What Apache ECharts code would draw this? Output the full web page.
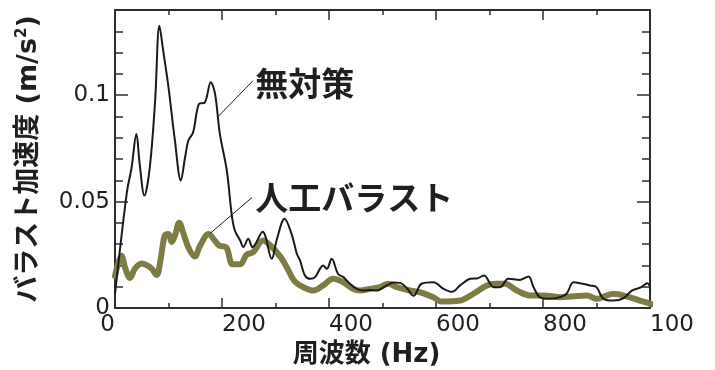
<!DOCTYPE html>
<html>
<head>
<meta charset="utf-8">
<script src="https://cdn.jsdelivr.net/npm/echarts@6.0.0/dist/echarts.min.js"></script>
<style>
  html, body { margin: 0; padding: 0; background: #ffffff; }
  #chart { width: 715px; height: 370px; }
</style>
</head>
<body>
<div id="chart"></div>
<script>
// 無対策: ballast acceleration spectrum without countermeasure
const noneFreq = [0, 22, 31, 40, 46, 55, 65, 75, 83, 90, 100, 112, 123, 131, 137, 146, 157, 168, 179, 187, 196, 209, 218, 224, 234, 240, 249, 257, 276, 293, 302, 317, 330, 340, 346, 355, 365, 374, 383, 389, 396, 405, 417, 427, 439, 452, 464, 476, 489, 508, 520, 533, 545, 558, 573, 595, 614, 630, 645, 664, 678, 690, 700, 707, 720, 735, 757, 773, 782, 794, 813, 830, 844, 857, 872, 888, 900, 913, 932, 950, 966, 981, 995, 1004];
const noneAccel = [0.0065, 0.054, 0.066, 0.0818, 0.068, 0.0528, 0.066, 0.0974, 0.1326, 0.121, 0.1037, 0.0786, 0.0599, 0.0708, 0.0786, 0.0825, 0.0959, 0.0966, 0.106, 0.1006, 0.0818, 0.0646, 0.0442, 0.0364, 0.0317, 0.0286, 0.0325, 0.0286, 0.0358, 0.0231, 0.0317, 0.0419, 0.0348, 0.0254, 0.0223, 0.0153, 0.0137, 0.0145, 0.0184, 0.020, 0.0184, 0.0231, 0.016, 0.0145, 0.0114, 0.009, 0.0082, 0.0085, 0.0082, 0.0106, 0.012, 0.0118, 0.0095, 0.0057, 0.0114, 0.0121, 0.009, 0.0076, 0.0106, 0.0137, 0.014, 0.0153, 0.012, 0.0098, 0.0098, 0.0137, 0.0132, 0.0148, 0.010, 0.0051, 0.0043, 0.005, 0.0067, 0.0121, 0.0115, 0.0106, 0.0098, 0.0043, 0.0035, 0.0045, 0.0082, 0.0095, 0.0116, 0.0055];

// 人工バラスト: ballast acceleration spectrum with artificial ballast
const ballastFreq = [0, 12, 20, 28, 37, 50, 60, 69, 78, 85, 93, 100, 106, 112, 120, 128, 137, 149, 159, 175, 186, 195, 208, 220, 234, 246, 258, 277, 292, 310, 321, 336, 352, 371, 389, 408, 427, 445, 458, 477, 495, 511, 527, 551, 570, 595, 610, 645, 670, 695, 713, 729, 751, 776, 801, 832, 856, 882, 900, 915, 932, 956, 981, 1003];
const ballastAccel = [0.015, 0.0246, 0.018, 0.0141, 0.0184, 0.0209, 0.020, 0.0184, 0.0155, 0.0225, 0.034, 0.0348, 0.031, 0.034, 0.040, 0.035, 0.0285, 0.0242, 0.0293, 0.0348, 0.0318, 0.0293, 0.0285, 0.0205, 0.0205, 0.025, 0.0262, 0.0317, 0.029, 0.0238, 0.0192, 0.0125, 0.0098, 0.0082, 0.0106, 0.0137, 0.0121, 0.009, 0.0082, 0.009, 0.0098, 0.0114, 0.0098, 0.0082, 0.0074, 0.0051, 0.003, 0.0035, 0.0067, 0.0106, 0.0114, 0.0114, 0.0082, 0.0059, 0.0059, 0.0051, 0.0055, 0.0059, 0.0043, 0.0055, 0.0067, 0.0055, 0.0035, 0.0018];

const seriesNames = ['無対策', '人工バラスト'];

// tick labels as printed on the axes
const xTickValues = [0, 200, 400, 600, 800, 1000];
const xTickLabels = ['0', '200', '400', '600', '800', '100'];
const yTickValues = [0, 0.05, 0.1];
const yTickLabels = ['0', '0.05', '0.1'];

const xTitle = '周波数 (Hz)';
const yTitle = 'バラスト加速度 (m/s{sup|2})';

// leader lines from each curve to its callout text: [from, to, text anchor]
const noneLeader = [[192.5, 0.0899], [258, 0.1068], [262, 0.1056]];
const ballastLeader = [[177.6, 0.035], [256, 0.0519], [262, 0.0521]];

function pairs(xs, ys) { return xs.map((x, i) => [x, ys[i]]); }
function lookup(values, labels, v) {
  for (let i = 0; i < values.length; i++) {
    if (Math.abs(values[i] - v) < 1e-6) return labels[i];
  }
  return '';
}

const INK = '#1f1f1f';
const AXIS = '#2e2e2e';
const NUM_FONT = 'DejaVu Sans';
const TITLE_FONT = "'DejaVu Sans', 'Noto Sans CJK JP'";
const CJK_FONT = "'Noto Sans CJK JP'";

const labelBase = { fontFamily: NUM_FONT, fontSize: 23, color: INK };

function yAxisBase(pos, tickLen, interval, showLine) {
  return {
    type: 'value', position: pos, min: 0, max: 0.14, interval: interval,
    axisLine: { show: showLine, onZero: false, lineStyle: { color: AXIS, width: 2 } },
    axisTick: { show: true, inside: true, length: tickLen, lineStyle: { color: AXIS, width: 1.5 } },
    axisLabel: { show: false },
    splitLine: { show: false }
  };
}

const chart = echarts.init(document.getElementById('chart'), null, { renderer: 'canvas' });

chart.setOption({
  animation: false,
  backgroundColor: '#ffffff',
  grid: { left: 115, right: 65, top: 10, bottom: 62, containLabel: false, outerBoundsMode: 'none' },
  xAxis: [
    {
      type: 'value', position: 'bottom', min: 0, max: 1000, interval: 200,
      axisLine: { show: true, onZero: false, lineStyle: { color: AXIS, width: 2 } },
      axisTick: { show: true, inside: true, length: 10, lineStyle: { color: AXIS, width: 1.5 } },
      minorTick: { show: true, splitNumber: 2, length: 5, lineStyle: { color: AXIS, width: 1.5 } },
      axisLabel: Object.assign({}, labelBase, {
        align: 'left', margin: 6,
        formatter: v => (v === 0 ? '' : lookup(xTickValues, xTickLabels, v))
      }),
      splitLine: { show: false },
      name: xTitle, nameLocation: 'middle', nameGap: 30,
      nameTextStyle: { fontFamily: TITLE_FONT, fontWeight: 'bold', fontSize: 26, color: INK, padding: [0, 32, 0, 0] }
    },
    {
      // origin label, set to the left of the corner
      type: 'value', position: 'bottom', min: 0, max: 1000, interval: 200,
      axisLine: { show: false }, axisTick: { show: false },
      axisLabel: Object.assign({}, labelBase, {
        align: 'right', margin: 6,
        formatter: v => (v === 0 ? lookup(xTickValues, xTickLabels, v) : '')
      }),
      splitLine: { show: false }
    },
    {
      type: 'value', position: 'top', min: 0, max: 1000, interval: 200,
      axisLine: { show: true, onZero: false, lineStyle: { color: AXIS, width: 2 } },
      axisTick: { show: true, inside: true, length: 10, lineStyle: { color: AXIS, width: 1.5 } },
      minorTick: { show: true, splitNumber: 2, length: 5, lineStyle: { color: AXIS, width: 1.5 } },
      axisLabel: { show: false },
      splitLine: { show: false }
    }
  ],
  yAxis: [
    Object.assign(yAxisBase('left', 8, 0.01, true), {
      axisLabel: Object.assign({}, labelBase, {
        margin: 5,
        formatter: v => lookup(yTickValues, yTickLabels, v)
      }),
      name: yTitle, nameLocation: 'middle', nameGap: 73, nameRotate: 90,
      nameTextStyle: {
        fontFamily: TITLE_FONT, fontWeight: 'bold', fontSize: 27, color: INK,
        rich: {
          sup: { fontFamily: NUM_FONT, fontWeight: 'bold', fontSize: 15, color: INK, verticalAlign: 'top' }
        }
      }
    }),
    yAxisBase('left', 13, 0.05, false),
    yAxisBase('right', 8, 0.01, true),
    yAxisBase('right', 13, 0.05, false)
  ],
  series: [
    {
      name: seriesNames[1], type: 'line', xAxisIndex: 0, yAxisIndex: 0,
      data: pairs(ballastFreq, ballastAccel),
      showSymbol: false, symbol: 'none', smooth: 0.35, clip: false,
      lineStyle: { color: '#7d7c45', width: 6, cap: 'round', join: 'round' },
      z: 2,
      markLine: {
        silent: true, symbol: 'none', animation: false,
        lineStyle: { color: INK, width: 1, type: 'solid' },
        label: { show: false },
        data: [[{ coord: ballastLeader[0] }, { coord: ballastLeader[1] }]]
      },
      markPoint: {
        silent: true, symbol: 'circle', symbolSize: 0, animation: false,
        itemStyle: { color: 'rgba(0,0,0,0)' },
        label: {
          show: true, position: 'right', distance: 0, formatter: '{b}',
          fontFamily: CJK_FONT, fontWeight: 'bold', fontSize: 33, color: INK
        },
        data: [{ name: seriesNames[1], coord: ballastLeader[2] }]
      }
    },
    {
      name: seriesNames[0], type: 'line', xAxisIndex: 0, yAxisIndex: 0,
      data: pairs(noneFreq, noneAccel),
      showSymbol: false, symbol: 'none', smooth: 0.35, clip: false,
      lineStyle: { color: '#1a1a1a', width: 2, join: 'round' },
      z: 3,
      markLine: {
        silent: true, symbol: 'none', animation: false,
        lineStyle: { color: INK, width: 1, type: 'solid' },
        label: { show: false },
        data: [[{ coord: noneLeader[0] }, { coord: noneLeader[1] }]]
      },
      markPoint: {
        silent: true, symbol: 'circle', symbolSize: 0, animation: false,
        itemStyle: { color: 'rgba(0,0,0,0)' },
        label: {
          show: true, position: 'right', distance: 0, formatter: '{b}',
          fontFamily: CJK_FONT, fontWeight: 'bold', fontSize: 33, color: INK
        },
        data: [{ name: seriesNames[0], coord: noneLeader[2] }]
      }
    }
  ]
});
</script>
</body>
</html>
